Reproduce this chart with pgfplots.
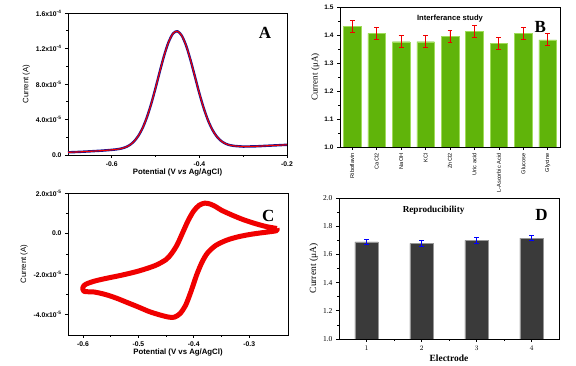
\documentclass[border=0pt]{standalone}
\usepackage{pgfplots}
\pgfplotsset{compat=1.18}
\usepackage{pgfplotstable}
\usepackage{fontspec}
\setmainfont{Liberation Sans}
\newfontfamily\seriffont{Liberation Serif}
\definecolor{cvred}{RGB}{240,0,0}
\definecolor{barg}{RGB}{96,180,10}
\definecolor{bargedge}{RGB}{160,220,90}
\definecolor{bard}{RGB}{58,58,58}
\definecolor{bardedge}{RGB}{150,150,150}
\definecolor{dpvblue}{RGB}{20,20,150}

% DPV, current in units of 1e-5 A
\pgfplotstableread{
x y
-0.70 0.30
-0.67 0.36
-0.64 0.44
-0.62 0.50
-0.60 0.58
-0.59 0.63
-0.58 0.71
-0.57 0.85
-0.56 1.09
-0.55 1.49
-0.54 2.11
-0.53 3.00
-0.52 4.23
-0.51 5.77
-0.50 7.57
-0.49 9.48
-0.48 11.29
-0.47 12.77
-0.46 13.70
-0.45 13.94
-0.44 13.43
-0.43 12.28
-0.42 10.65
-0.41 8.80
-0.40 6.93
-0.39 5.26
-0.38 3.87
-0.37 2.81
-0.36 2.06
-0.35 1.57
-0.34 1.27
-0.33 1.10
-0.32 1.02
-0.31 0.98
-0.30 0.95
-0.27 0.98
-0.25 1.03
-0.22 1.10
-0.20 1.15
}\dpvdata

% CV, current in units of 1e-5 A
\pgfplotstableread{
x y
-0.25 0.25
-0.27 0.35
-0.29 0.50
-0.31 0.68
-0.33 0.90
-0.35 1.15
-0.36 1.32
-0.37 1.45
-0.38 1.50
-0.39 1.40
-0.40 1.12
-0.41 0.65
-0.42 0.05
-0.43 -0.55
-0.44 -0.98
-0.45 -1.28
-0.47 -1.58
-0.50 -1.85
-0.53 -2.05
-0.56 -2.22
-0.58 -2.35
-0.595 -2.50
-0.60 -2.65
-0.598 -2.85
-0.58 -2.88
-0.56 -3.00
-0.54 -3.18
-0.52 -3.40
-0.50 -3.62
-0.48 -3.85
-0.46 -4.02
-0.445 -4.12
-0.435 -4.12
-0.425 -3.95
-0.415 -3.55
-0.405 -2.85
-0.395 -2.05
-0.385 -1.40
-0.375 -0.95
-0.36 -0.58
-0.34 -0.32
-0.32 -0.16
-0.30 -0.05
-0.28 0.03
-0.26 0.10
-0.25 0.15
-0.25 0.25
}\cvdata

\pgfplotstableread{
x y e
0 1.431 0.021
1 1.406 0.021
2 1.376 0.021
3 1.376 0.021
4 1.394 0.021
5 1.413 0.021
6 1.370 0.021
7 1.406 0.021
8 1.383 0.021
}\interf

\pgfplotstableread{
x y e
1 1.688 0.019
2 1.678 0.019
3 1.700 0.019
4 1.716 0.019
}\repro

\pgfplotsset{
  panel/.style={
    scale only axis, anchor=south west,
    tick align=outside, tick pos=left,
    major tick length=3pt, minor tick length=1.6pt,
    axis line style={line width=0.9pt},
    every tick/.style={black, line width=0.6pt},
  }
}

\begin{document}
\begin{tikzpicture}
\useasboundingbox (0pt,0pt) rectangle (576pt,366pt);

% ---------------- A ----------------
\begin{axis}[panel,
  at={(68pt,211pt)}, width=219pt, height=142pt,
  xmin=-0.7, xmax=-0.2, ymin=0, ymax=16,
  xtick={-0.6,-0.4,-0.2}, xticklabels={-0.6,-0.4,-0.2},
  minor x tick num=1,
  ytick={0,4,8,12,16},
  yticklabels={0.0,4.0x10\textsuperscript{-5},8.0x10\textsuperscript{-5},1.2x10\textsuperscript{-4},1.6x10\textsuperscript{-4}},
  minor y tick num=1,
  tick label style={font=\fontsize{6.8}{7}\selectfont\bfseries},
  xlabel={\textbf{Potential (V \textit{vs} Ag/AgCl)}},
  ylabel={Current (A)},
  label style={font=\fontsize{7.8}{8}\selectfont},
  xlabel style={yshift=4pt},
  ylabel style={yshift=-1pt},
]
\addplot[dpvblue, line width=2.4pt, no marks, smooth] table {\dpvdata};
\addplot[cvred, line width=1.1pt, no marks, smooth] table {\dpvdata};
\node[font=\seriffont\bfseries\fontsize{17}{18}\selectfont] at (rel axis cs:0.9,0.86) {A};
\end{axis}

% ---------------- B ----------------
\begin{axis}[panel,
  at={(340pt,219pt)}, width=220pt, height=140pt,
  xmin=-0.5, xmax=8.5, ymin=1.0, ymax=1.5,
  xtick={0,...,8},
  xticklabels={Riboflavin,CaCl2,NaOH,KCl,ZnCl2,Uric acid,L-Ascorbic Acid,Glucose,Glycine},
  xticklabel style={rotate=90, anchor=east, font=\fontsize{5.6}{6}\selectfont},
  ytick={1.0,1.1,1.2,1.3,1.4,1.5},
  yticklabels={1.0,1.1,1.2,1.3,1.4,1.5},
  minor y tick num=1,
  yticklabel style={font=\fontsize{6.5}{7}\selectfont\bfseries},
  ylabel={\seriffont Current (μA)},
  ylabel style={font=\fontsize{9}{10}\selectfont, yshift=-2pt},
]
\addplot[ybar, bar width=0.72, fill=barg, draw=bargedge, line width=0.4pt,
  error bars/.cd, y dir=both, y explicit,
  error bar style={cvred, line width=0.8pt},
  error mark options={cvred, rotate=90, mark size=2.4pt, line width=0.8pt}]
  table[x=x, y=y, y error=e] {\interf};
\node[font=\fontsize{7.6}{8}\selectfont\bfseries] at (rel axis cs:0.5,0.92) {Interferance study};
\node[font=\seriffont\bfseries\fontsize{17}{18}\selectfont] at (rel axis cs:0.91,0.86) {B};
\end{axis}

% ---------------- C ----------------
\begin{axis}[panel,
  at={(68pt,31pt)}, width=220pt, height=142pt,
  xmin=-0.627, xmax=-0.23, ymin=-5, ymax=2,
  xtick={-0.6,-0.5,-0.4,-0.3}, xticklabels={-0.6,-0.5,-0.4,-0.3},
  minor x tick num=1,
  ytick={-4,-2,0,2},
  yticklabels={-4.0x10\textsuperscript{-5},-2.0x10\textsuperscript{-5},0.0,2.0x10\textsuperscript{-5}},
  minor y tick num=1,
  tick label style={font=\fontsize{6.8}{7}\selectfont\bfseries},
  xlabel={\textbf{Potential (V vs Ag/AgCl)}},
  ylabel={Current (A)},
  label style={font=\fontsize{7.8}{8}\selectfont},
  xlabel style={yshift=4pt},
  ylabel style={yshift=-1pt},
]
\addplot[cvred, line width=5pt, no marks, smooth, line join=round] table {\cvdata};
\node[font=\seriffont\bfseries\fontsize{17}{18}\selectfont] at (rel axis cs:0.91,0.84) {C};
\end{axis}

% ---------------- D ----------------
\begin{axis}[panel,
  at={(339pt,27pt)}, width=220pt, height=141pt,
  xmin=0.5, xmax=4.5, ymin=1.0, ymax=2.0,
  xtick={1,2,3,4}, minor x tick num=1,
  ytick={1.0,1.2,1.4,1.6,1.8,2.0},
  yticklabels={1.0,1.2,1.4,1.6,1.8,2.0},
  minor y tick num=1,
  tick label style={font=\seriffont\fontsize{7.5}{8}\selectfont},
  xlabel={\seriffont\bfseries Electrode},
  ylabel={\seriffont Current (μA)},
  label style={font=\fontsize{9.5}{10}\selectfont},
  xlabel style={yshift=2pt},
  ylabel style={yshift=-2pt},
]
\addplot[ybar, bar width=0.42, fill=bard, draw=bardedge, line width=0.4pt,
  error bars/.cd, y dir=both, y explicit,
  error bar style={blue, line width=0.8pt},
  error mark options={blue, rotate=90, mark size=2.2pt, line width=0.8pt}]
  table[x=x, y=y, y error=e] {\repro};
\node[font=\seriffont\bfseries\fontsize{9.2}{10}\selectfont] at (rel axis cs:0.43,0.91) {Reproducibility};
\node[font=\seriffont\bfseries\fontsize{17}{18}\selectfont] at (rel axis cs:0.92,0.88) {D};
\end{axis}
\end{tikzpicture}
\end{document}
